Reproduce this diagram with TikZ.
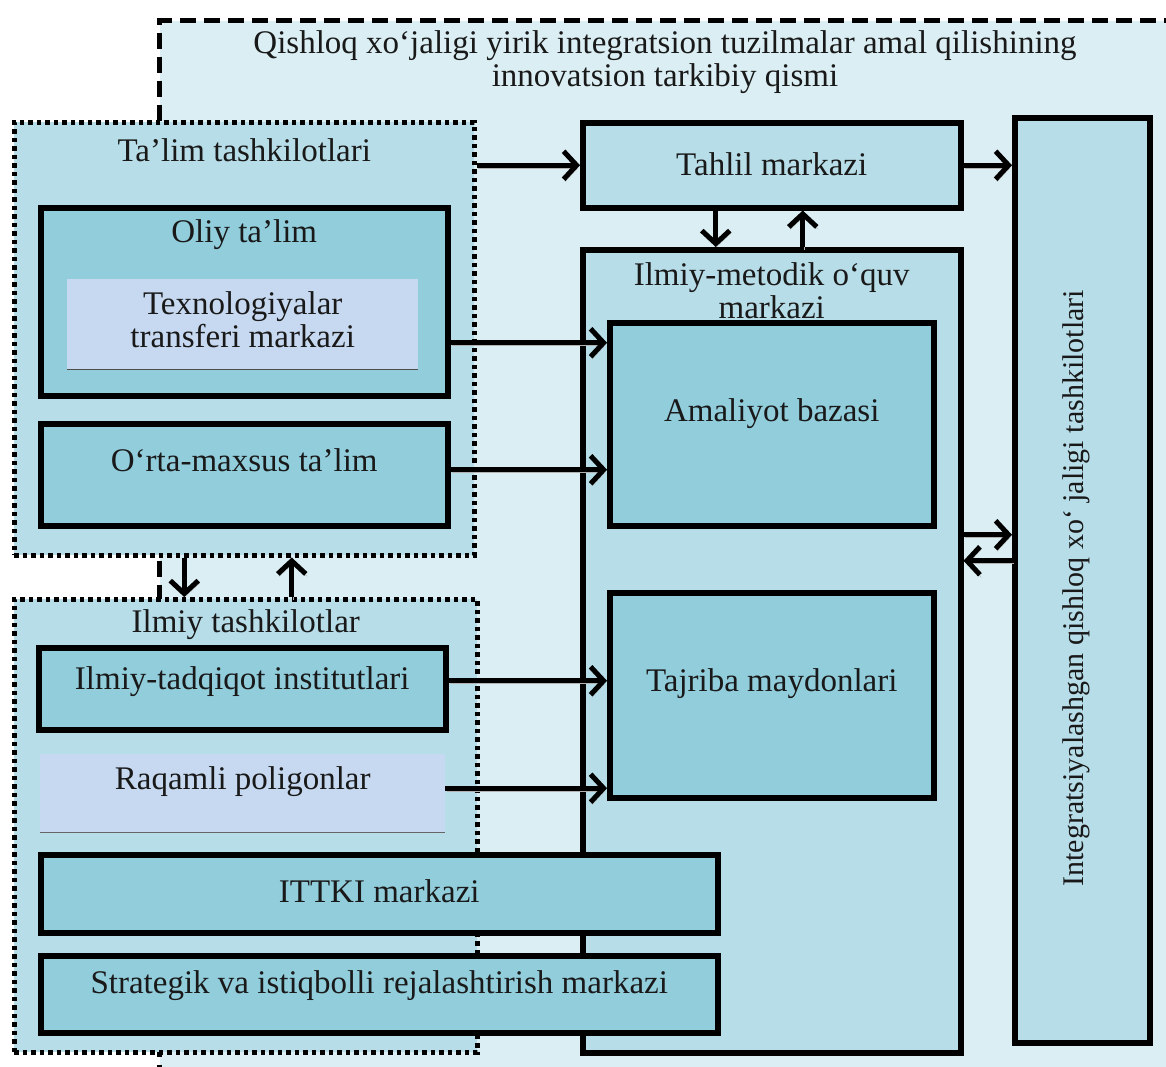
\documentclass[tikz,border=0pt]{standalone}
\usepackage{fontspec}
\setmainfont{Liberation Serif}
\usetikzlibrary{arrows.meta,calc}
\definecolor{c20}{HTML}{DAEEF3}
\definecolor{c60}{HTML}{B7DDE8}
\definecolor{c40}{HTML}{92CDDC}
\definecolor{clav}{HTML}{C6D9F1}
\begin{document}
\begin{tikzpicture}[x=1pt,y=-1pt,
  every node/.style={font=\fontsize{33}{33}\selectfont, text=black!90},
  outerbox/.style={draw, line width=5pt, dash pattern=on 16pt off 8pt, fill=c20, anchor=north west, inner sep=0pt},
  cont/.style={draw, line width=4.5pt, dash pattern=on 4.5pt off 4pt, fill=c60, anchor=north west, inner sep=0pt},
  bx/.style={draw, line width=5.5pt, fill=c40, anchor=north west, inner sep=0pt, align=center},
  mbx/.style={draw, line width=5.5pt, fill=c60, anchor=north west, inner sep=0pt, align=center},
  lbx/.style={fill=clav, anchor=north west, inner sep=0pt, align=center},
  ar/.style={line width=5pt, -{Straight Barb[length=13pt,width=28pt]},
     preaction={draw=black!30, transform canvas={shift={(1.5pt,-2.5pt)}}}},
]
\useasboundingbox (0,0) rectangle (1166,1066);
\begin{scope}
\clip (0,0) rectangle (1166,1066);
\node[outerbox, minimum width=1100pt, minimum height=1100pt] (outer) at (157,18) {};
\end{scope}
\node[align=center] (title) at (665,62) {Qishloq xo‘jaligi yirik integratsion tuzilmalar amal qilishining\\innovatsion tarkibiy qismi};

% containers
\node[cont, minimum width=460pt, minimum height=433pt,
  label={[anchor=center, yshift=-30pt]north:Ta’lim tashkilotlari}] (taleem) at (12,120) {};
\node[cont, minimum width=463pt, minimum height=453pt,
  label={[anchor=center, yshift=-28pt]north:Ilmiy tashkilotlar}] (ilmiy) at (12,597) {};

% middle and right
\node[mbx, minimum width=378pt, minimum height=85pt, text depth=2pt] (tahlil) at (580,120) {Tahlil markazi};
\node[mbx, minimum width=378pt, minimum height=803pt,
  label={[anchor=north, align=center, yshift=-12pt]north:Ilmiy-metodik o‘quv\\markazi}] (metod) at (580,247) {};
\node[mbx, minimum width=135pt, minimum height=925pt,
  label={[anchor=center, rotate=90, font=\fontsize{30}{30}\selectfont, xshift=-8pt, yshift=6pt]center:Integratsiyalashgan qishloq xo‘ jaligi tashkilotlari}] (right) at (1012,115) {};

% left inner boxes
\node[bx, minimum width=407pt, minimum height=188pt,
  label={[anchor=center, yshift=-30pt]north:Oliy ta’lim}] (oliy) at (38,205) {};
\node[lbx, minimum width=351pt, minimum height=90pt, text depth=10pt] (texno) at (67,279) {Texnologiyalar\\transferi markazi};
\draw[line width=1.5pt, black!70] (texno.south west) -- (texno.south east);
\node[bx, minimum width=407pt, minimum height=102pt, text depth=30pt] (orta) at (38,421) {O‘rta-maxsus ta’lim};
\node[bx, minimum width=407pt, minimum height=82pt, text depth=22pt] (tadq) at (36,645) {Ilmiy-tadqiqot institutlari};
\node[lbx, minimum width=405pt, minimum height=78pt, text depth=30pt] (raq) at (40,754) {Raqamli poligonlar};
\draw[line width=1.5pt, black!60] (raq.south west) -- (raq.south east);

% amaliyot / tajriba
\node[bx, minimum width=324pt, minimum height=203pt, text depth=28pt] (amal) at (607,320) {Amaliyot bazasi};
\node[bx, minimum width=324pt, minimum height=205pt, text depth=30pt] (tajr) at (607,590) {Tajriba maydonlari};

% bottom wide boxes
\node[bx, minimum width=677pt, minimum height=78pt, text depth=6pt] (ittki) at (38,852) {ITTKI markazi};
\node[bx, minimum width=677pt, minimum height=77pt, text depth=24pt] (strat) at (38,953) {Strategik va istiqbolli rejalashtirish markazi};

% arrows
\draw[ar] (taleem.east |- tahlil.west) -- (tahlil.west);
\draw[ar] (tahlil.east) -- (tahlil.east -| right.west);
\draw[ar] ([xshift=-56pt]tahlil.south) -- ([xshift=-56pt]metod.north);
\draw[ar] ([xshift=31pt]metod.north) -- ([xshift=31pt]tahlil.south);
\draw[ar] ([yshift=-41pt]oliy.east) coordinate (a1) -- (a1 -| amal.west);
\draw[ar] ([yshift=5pt]orta.east) coordinate (a2) -- (a2 -| amal.west);
\draw[ar] ([yshift=8pt]tadq.east) coordinate (a3) -- (a3 -| tajr.west);
\draw[ar] ([yshift=5pt]raq.east) coordinate (a4) -- (a4 -| tajr.west);
\draw[ar] ([yshift=45.5pt]metod.east |- right.west) coordinate (a5) -- (a5 -| right.west);
\draw[ar] ([yshift=19.5pt]right.west) coordinate (a6) -- (a6 -| metod.east);
\draw[ar] ([xshift=-60pt]taleem.south) -- ([xshift=-60pt]taleem.south |- ilmiy.north);
\draw[ar] ([xshift=46pt]ilmiy.north) -- ([xshift=46pt]ilmiy.north |- taleem.south);
\end{tikzpicture}
\end{document}
